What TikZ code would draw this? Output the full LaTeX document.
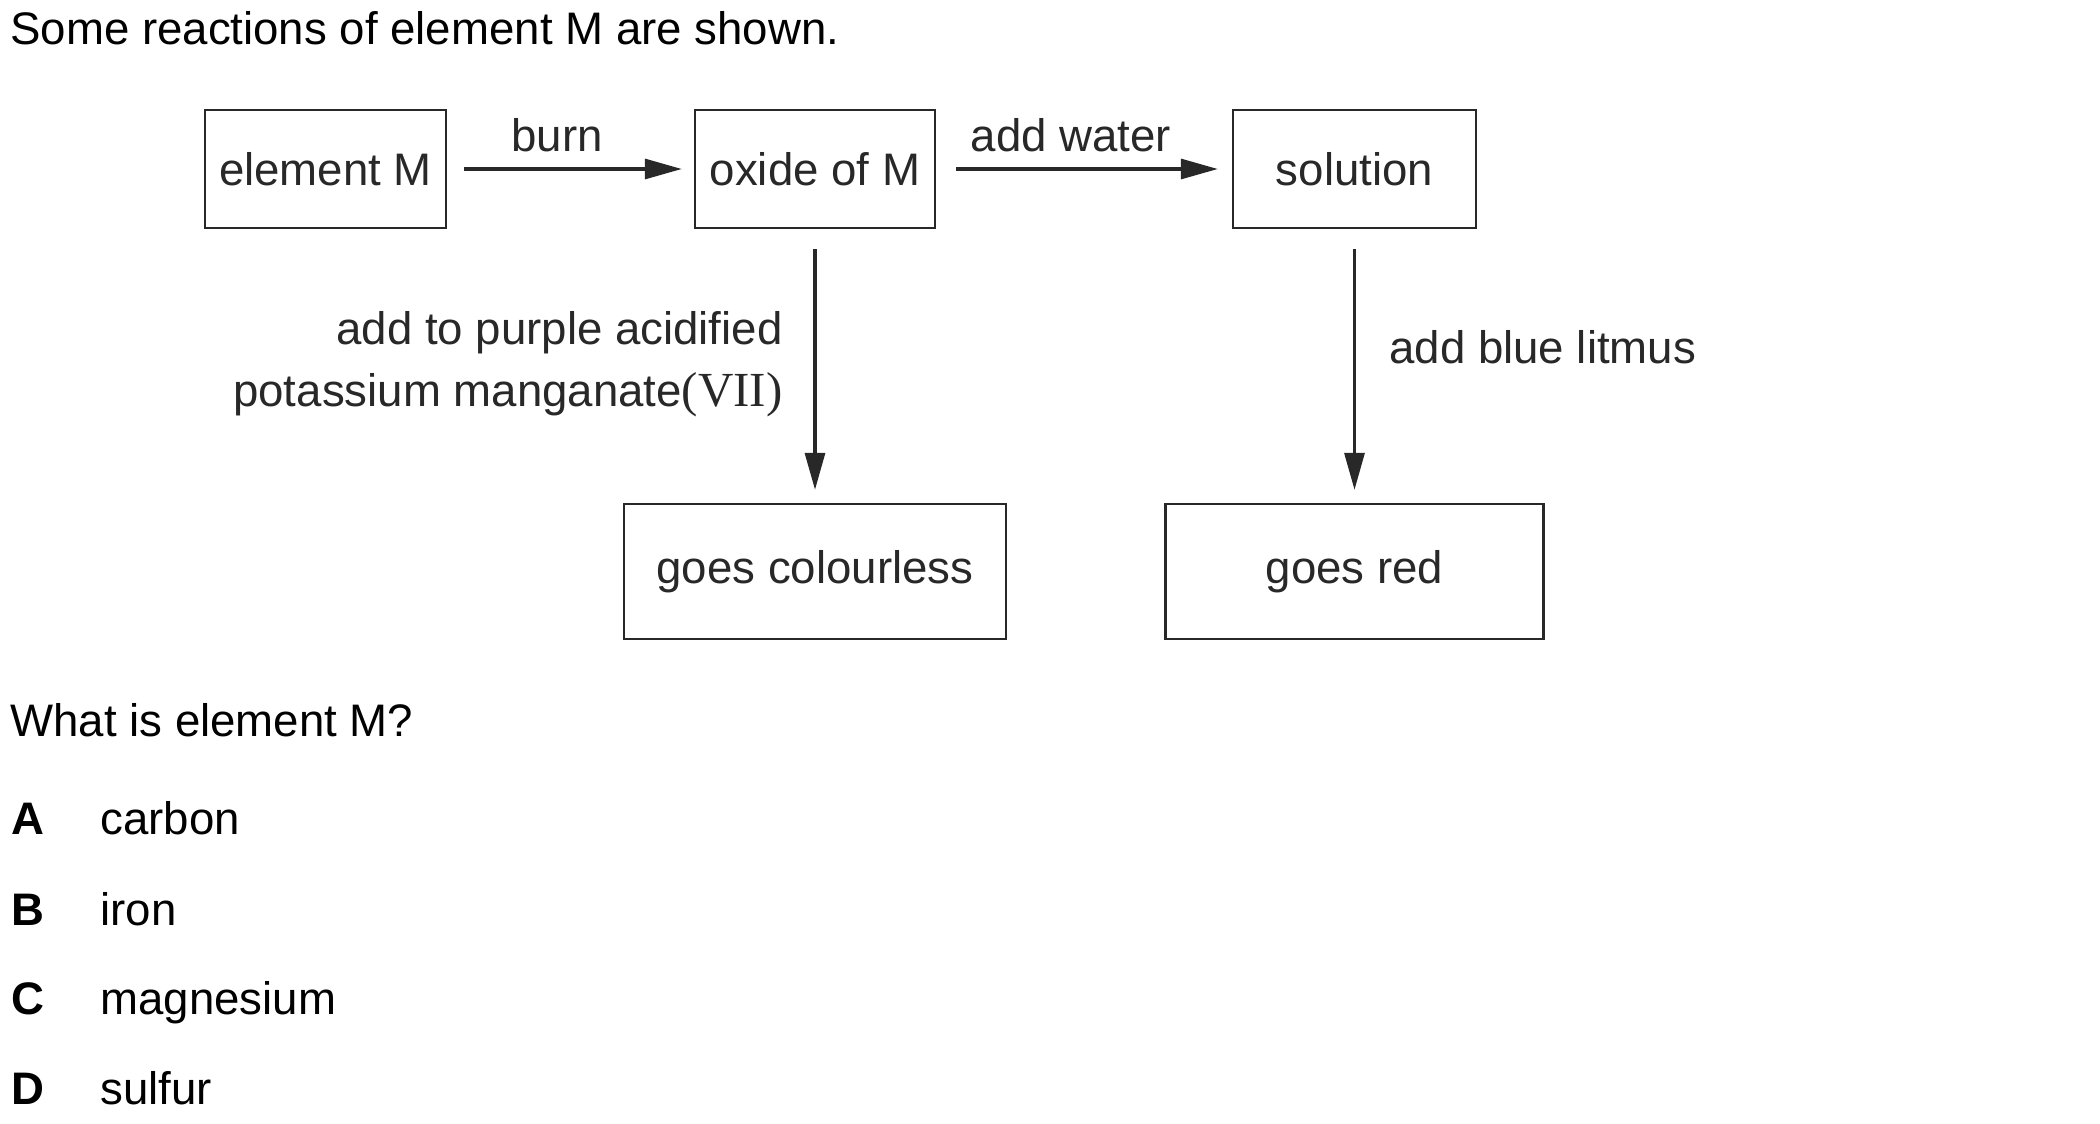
\documentclass[tikz,border=0pt]{standalone}
\usepackage{fontspec}
\setmainfont{Liberation Sans}
\newfontfamily\romanfont{Liberation Serif}
\usetikzlibrary{arrows.meta}
\definecolor{diag}{RGB}{40,40,40}
\tikzset{
  txt/.style={font=\fontsize{22.8}{31}\selectfont, inner sep=0pt},
  box/.style={draw=diag, line width=1.2pt, text=diag, font=\fontsize{22.8}{27}\selectfont, inner sep=0pt},
  flow/.style={draw=diag, line width=1.6pt, -{Triangle[length=18.5pt,width=10pt]}},
  lbl/.style={txt, text=diag},
  opt/.style={txt, font=\fontsize{22.8}{27}\selectfont\bfseries}
}
\begin{document}
\begin{tikzpicture}[x=0.5pt,y=-0.5pt]
\useasboundingbox (0,0) rectangle (2100,1124);
% heading
\node[txt, anchor=base west] (head) at (10,44) {Some reactions of element M are shown.};
% boxes
\node[box, minimum width=120.5pt, minimum height=59pt] (m) at (325.5,169) {element M};
\node[box, minimum width=120pt, minimum height=59pt] (ox) at (815,169) {oxide of M};
\node[box, minimum width=121.5pt, minimum height=59pt] (sol) at (1354.5,169) {solution};
\node[box, minimum width=191pt, minimum height=67.5pt] (col) at (815,571.5) {goes colourless};
\node[box, minimum width=189pt, minimum height=67.5pt] (red) at (1354.5,571.5) {goes red};
% connectors
\draw[flow, shorten <=8.5pt, shorten >=6pt] (m.east) -- (ox.west);
\draw[flow, shorten <=10pt, shorten >=7pt] (ox.east) -- (sol.west);
\draw[flow, shorten <=10pt, shorten >=6.5pt] (ox.south) -- (col.north);
\draw[flow, shorten <=10pt, shorten >=6.5pt] (sol.south) -- (red.north);
% labels
\node[lbl, anchor=base] (lburn) at (557,151) {burn};
\node[lbl, anchor=base] (lwater) at (1071,151) {add water};
\node[lbl, anchor=east, align=right] (lkmno) at (783,364) {add to purple acidified\\potassium manganate{\romanfont\fontsize{24.5}{31}\selectfont(VII)}};
\node[lbl, anchor=base west] (llit) at (1389,363) {add blue litmus};
% question
\node[txt, anchor=base west] (q) at (10,736) {What is element M?};
\node[opt, anchor=base west] (la) at (11,834) {A};
\node[txt, anchor=base west] (ta) at (100,834) {carbon};
\node[opt, anchor=base west] (lb) at (11,925) {B};
\node[txt, anchor=base west] (tb) at (100,925) {iron};
\node[opt, anchor=base west] (lc) at (11,1014) {C};
\node[txt, anchor=base west] (tc) at (100,1014) {magnesium};
\node[opt, anchor=base west] (ld) at (11,1104) {D};
\node[txt, anchor=base west] (td) at (100,1104) {sulfur};
\end{tikzpicture}
\end{document}
